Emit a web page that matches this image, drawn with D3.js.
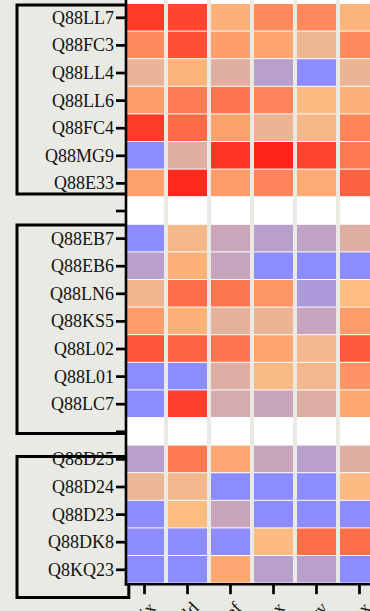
<!DOCTYPE html>
<html>
<head>
<meta charset="utf-8">
<script src="https://cdn.jsdelivr.net/npm/d3@7"></script>
<style>
  html, body { margin: 0; padding: 0; background: #e9eae4; }
  svg { display: block; }
  text { font-family: "Liberation Serif", "Times New Roman", serif; }
</style>
</head>
<body>
<svg id="chart" width="370" height="611"></svg>
<script>
// Conditions (columns)
const conditions = ["Mix", "Cold", "Ref", "Tox", "Dry", "Lux"];

// Protein groups (rows), separated by an empty spacer row
const groupA = ["Q88LL7", "Q88FC3", "Q88LL4", "Q88LL6", "Q88FC4", "Q88MG9", "Q88E33"];
const groupB = ["Q88EB7", "Q88EB6", "Q88LN6", "Q88KS5", "Q88L02", "Q88L01", "Q88LC7"];
const groupC = ["Q88D25", "Q88D24", "Q88D23", "Q88DK8", "Q8KQ23"];

// log2 fold change per protein, one value per condition
const valuesA = [
  [ 1.70,  1.56,  0.14,  0.66,  0.66,  0.10],
  [ 0.66,  1.42,  0.40,  0.32, -0.26,  0.66],
  [-0.38,  0.10, -0.54, -1.20, -2.00, -0.32],
  [ 0.40,  0.86,  0.94,  0.72, -0.04,  0.16],
  [ 1.70,  1.08,  0.36, -0.32, -0.14,  0.74],
  [-2.00, -0.54,  1.78,  2.00,  1.58,  0.90],
  [ 0.36,  1.92,  0.44,  0.72,  0.24,  1.20]
];
const valuesB = [
  [-2.00, -0.16, -0.92, -1.20, -1.08, -0.54],
  [-1.20,  0.16, -0.98, -2.00, -2.00, -2.00],
  [-0.24,  1.02,  0.92,  0.50, -1.44,  0.00],
  [ 0.40,  0.14, -0.44, -0.32, -0.98,  0.44],
  [ 1.36,  1.16,  0.94,  0.32, -0.20,  1.28],
  [-2.00, -2.00, -0.56, -0.08, -0.20,  0.52],
  [-2.00,  1.64, -0.72, -0.94, -0.56,  0.28]
];
const valuesC = [
  [-1.20,  0.90,  0.26, -0.94, -1.20, -0.54],
  [-0.30, -0.20, -2.00, -2.00, -2.00, -0.04],
  [-2.00,  0.00, -0.94, -2.00, -2.00, -2.00],
  [-2.00, -2.00, -2.00, -0.02,  1.02,  1.02],
  [-2.00, -2.00,  0.26, -1.20, -1.20, -2.00]
];

const groups = [
  { rows: groupA, values: valuesA },
  { rows: groupB, values: valuesB },
  { rows: groupC, values: valuesC }
];

// Row order with spacer rows between groups
const rowKeys = [];
const cells = [];
groups.forEach((g, gi) => {
  if (gi > 0) rowKeys.push("__gap" + gi);
  g.rows.forEach((r, ri) => {
    rowKeys.push(r);
    conditions.forEach((c, ci) => cells.push({ row: r, col: c, v: g.values[ri][ci] }));
  });
});

const svg = d3.select("#chart");
const W = 370;

const axisX = 126;      // x of the left axis line
const axisY = 584.2;    // y of the bottom axis line

const x = d3.scaleBand()
  .domain(conditions)
  .range([125, 125 + 43 * conditions.length - 4])
  .paddingInner(4 / 43)
  .paddingOuter(0)
  .align(0);

const y = d3.scaleBand()
  .domain(rowKeys)
  .range([4, 583.6])
  .padding(0);

const color = d3.scaleLinear()
  .domain([-2, 0, 2])
  .range(["#8c8cff", "#fdbc80", "#ff2418"])
  .interpolate(d3.interpolateRgb)
  .clamp(true);

// White column backdrops (they show as the thin row separators and the spacer rows)
svg.append("g")
  .selectAll("rect")
  .data(conditions)
  .join("rect")
  .attr("x", d => x(d))
  .attr("y", 0)
  .attr("width", x.bandwidth())
  .attr("height", axisY)
  .attr("fill", "#ffffff");

// Heatmap cells
svg.append("g")
  .selectAll("rect")
  .data(cells)
  .join("rect")
  .attr("x", d => x(d.col))
  .attr("y", d => y(d.row))
  .attr("width", x.bandwidth())
  .attr("height", y.bandwidth() - 1)
  .attr("fill", d => color(d.v));

// Left axis with protein labels
const yAxis = svg.append("g")
  .attr("transform", `translate(${axisX},0)`)
  .call(d3.axisLeft(y)
    .tickSize(10)
    .tickPadding(2)
    .tickFormat(k => k.startsWith("__gap") ? "" : k));
yAxis.select(".domain").remove();
yAxis.selectAll(".tick line").attr("stroke", "#000").attr("stroke-width", 2.7);
yAxis.selectAll(".tick text")
  .attr("fill", "#111")
  .style("font-size", "18px")
  .style("font-family", "'Liberation Serif', serif")
  .attr("dy", "0.33em");

// Bottom axis
const xAxis = svg.append("g")
  .attr("transform", `translate(0,${axisY})`)
  .call(d3.axisBottom(x).tickSize(10).tickPadding(3));
xAxis.select(".domain").remove();
xAxis.selectAll(".tick line").attr("stroke", "#000").attr("stroke-width", 2.7);
xAxis.selectAll(".tick text")
  .attr("fill", "#111")
  .style("font-size", "18px")
  .style("font-family", "'Liberation Serif', serif")
  .attr("text-anchor", "end")
  .attr("y", 0)
  .attr("dy", "0.71em")
  .attr("transform", "translate(3,16) rotate(-45)");

// Axis lines
svg.append("line")
  .attr("x1", axisX).attr("x2", axisX)
  .attr("y1", 0).attr("y2", axisY + 1.3)
  .attr("stroke", "#000").attr("stroke-width", 2.6);
svg.append("line")
  .attr("x1", axisX - 1.3).attr("x2", W)
  .attr("y1", axisY).attr("y2", axisY)
  .attr("stroke", "#000").attr("stroke-width", 2.6);

// Group brackets around the protein labels
const bw = y.bandwidth();
const boxLeft = 17;
const boxes = [
  { top: y(groupA[0]) + 1, bottom: y(groupA[groupA.length - 1]) + bw - 3.3, right: axisX },
  { top: y(groupB[0]) + 0.3, bottom: y("__gap2") + bw / 2 + 1.6, right: axisX },
  { top: y(groupC[0]) + 11, bottom: axisY + 13.3, right: axisX + 2.8 }
];
svg.append("g")
  .selectAll("path")
  .data(boxes)
  .join("path")
  .attr("d", b => `M${axisX},${b.top}H${boxLeft}V${b.bottom}H${b.right}V${Math.min(b.bottom, axisY)}`)
  .attr("fill", "none")
  .attr("stroke", "#000")
  .attr("stroke-width", 3);
</script>
</body>
</html>
